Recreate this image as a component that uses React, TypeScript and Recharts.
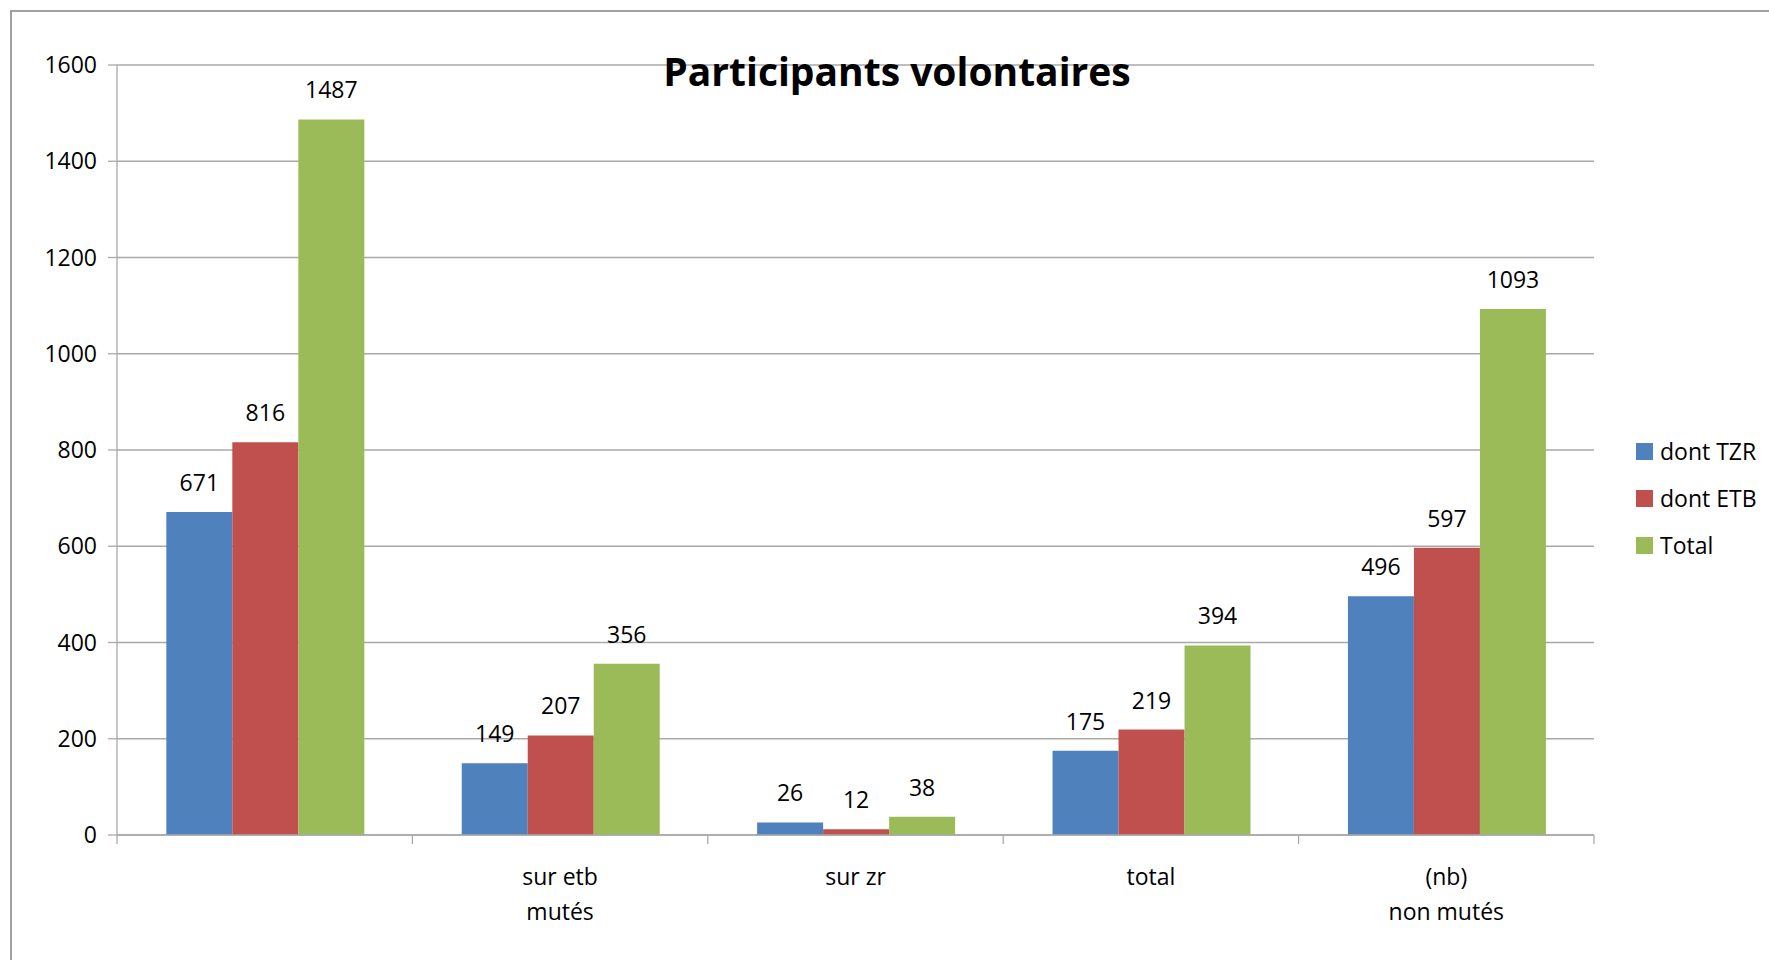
import { BarChart, Bar, XAxis, YAxis, CartesianGrid, Legend, LabelList } from "recharts";

const categories = ["", "sur etb\nmutés", "sur zr", "total", "(nb)\nnon mutés"];
const tzrValues = [671, 149, 26, 175, 496];
const etbValues = [816, 207, 12, 219, 597];
const totalValues = [1487, 356, 38, 394, 1093];
const yTicks = [0, 200, 400, 600, 800, 1000, 1200, 1400, 1600];

const seriesNames = ["dont TZR", "dont ETB", "Total"];
const seriesColors = ["#4F81BD", "#C0504D", "#9BBB59"];

const FONT = '"Open Sans", sans-serif';
const GRID = "#a9a9a9";

const chartData = categories.map((cat, i) => ({
  cat,
  tzr: tzrValues[i],
  etb: etbValues[i],
  total: totalValues[i],
}));

function CategoryTick(props: any) {
  const { x, y, payload, index } = props;
  const half = payload.offset ?? 0;
  const lines = String(payload.value).split("\n");
  return (
    <g>
      <line x1={x - half} x2={x - half} y1={y} y2={y + 9} stroke={GRID} strokeWidth={1.3} />
      {index === categories.length - 1 && (
        <line x1={x + half} x2={x + half} y1={y} y2={y + 9} stroke={GRID} strokeWidth={1.3} />
      )}
      <text x={x} y={y} textAnchor="middle" fontSize={23} fontFamily={FONT} fill="#000">
        {lines.map((l, i) => (
          <tspan key={i} x={x} dy={i === 0 ? 50 : 35}>
            {l}
          </tspan>
        ))}
      </text>
    </g>
  );
}

function LegendBox() {
  return (
    <div style={{ fontFamily: FONT, fontSize: 23, color: "#000" }}>
      {seriesNames.map((name, i) => (
        <div key={name} style={{ display: "flex", alignItems: "center", height: 47 }}>
          <span style={{ width: 17, height: 17, background: seriesColors[i], marginRight: 7, display: "inline-block" }} />
          <span style={{ lineHeight: "23px" }}>{name}</span>
        </div>
      ))}
    </div>
  );
}

export default function App() {
  return (
    <div style={{ position: "absolute", left: 0, top: 0, width: 1769, height: 960, background: "#fff", overflow: "hidden" }}>
      <div
        style={{
          position: "absolute",
          left: 10,
          top: 10,
          width: 1800,
          height: 1000,
          borderLeft: `2px solid #a0a0a0`,
          borderTop: `2px solid #a0a0a0`,
        }}
      />
      <BarChart
        width={1769}
        height={960}
        data={chartData}
        margin={{ top: 65, right: 175, bottom: 0, left: 0 }}
        barCategoryGap="16.7%"
        barGap={0}
        style={{ fontFamily: FONT }}
      >
        <CartesianGrid horizontal vertical={false} stroke={GRID} strokeWidth={1.3} />
        <XAxis
          dataKey="cat"
          height={125}
          interval={0}
          tickLine={false}
          tickSize={0}
          tickMargin={0}
          axisLine={{ stroke: GRID, strokeWidth: 1.3 }}
          tick={<CategoryTick />}
        />
        <YAxis
          width={117}
          domain={[0, 1600]}
          ticks={yTicks}
          tickSize={9}
          tickMargin={11}
          axisLine={{ stroke: GRID, strokeWidth: 1.3 }}
          tickLine={{ stroke: GRID, strokeWidth: 1.3 }}
          tick={{ fontSize: 23, fill: "#000", fontFamily: FONT }}
        />
        <Legend
          layout="vertical"
          align="center"
          verticalAlign="middle"
          wrapperStyle={{ left: 1636, top: 428, width: 140 }}
          content={<LegendBox />}
        />
        <Bar dataKey="tzr" name={seriesNames[0]} fill={seriesColors[0]} isAnimationActive={false}>
          <LabelList dataKey="tzr" position="top" offset={21} fontSize={23} fill="#000" fontFamily={FONT} />
        </Bar>
        <Bar dataKey="etb" name={seriesNames[1]} fill={seriesColors[1]} isAnimationActive={false}>
          <LabelList dataKey="etb" position="top" offset={21} fontSize={23} fill="#000" fontFamily={FONT} />
        </Bar>
        <Bar dataKey="total" name={seriesNames[2]} fill={seriesColors[2]} isAnimationActive={false}>
          <LabelList dataKey="total" position="top" offset={21} fontSize={23} fill="#000" fontFamily={FONT} />
        </Bar>
      </BarChart>
      <div
        style={{
          position: "absolute",
          left: 0,
          width: 1794,
          top: 43,
          textAlign: "center",
          fontFamily: FONT,
          fontWeight: 700,
          fontSize: 39,
          lineHeight: "55px",
          color: "#000",
        }}
      >
        Participants volontaires
      </div>
    </div>
  );
}
